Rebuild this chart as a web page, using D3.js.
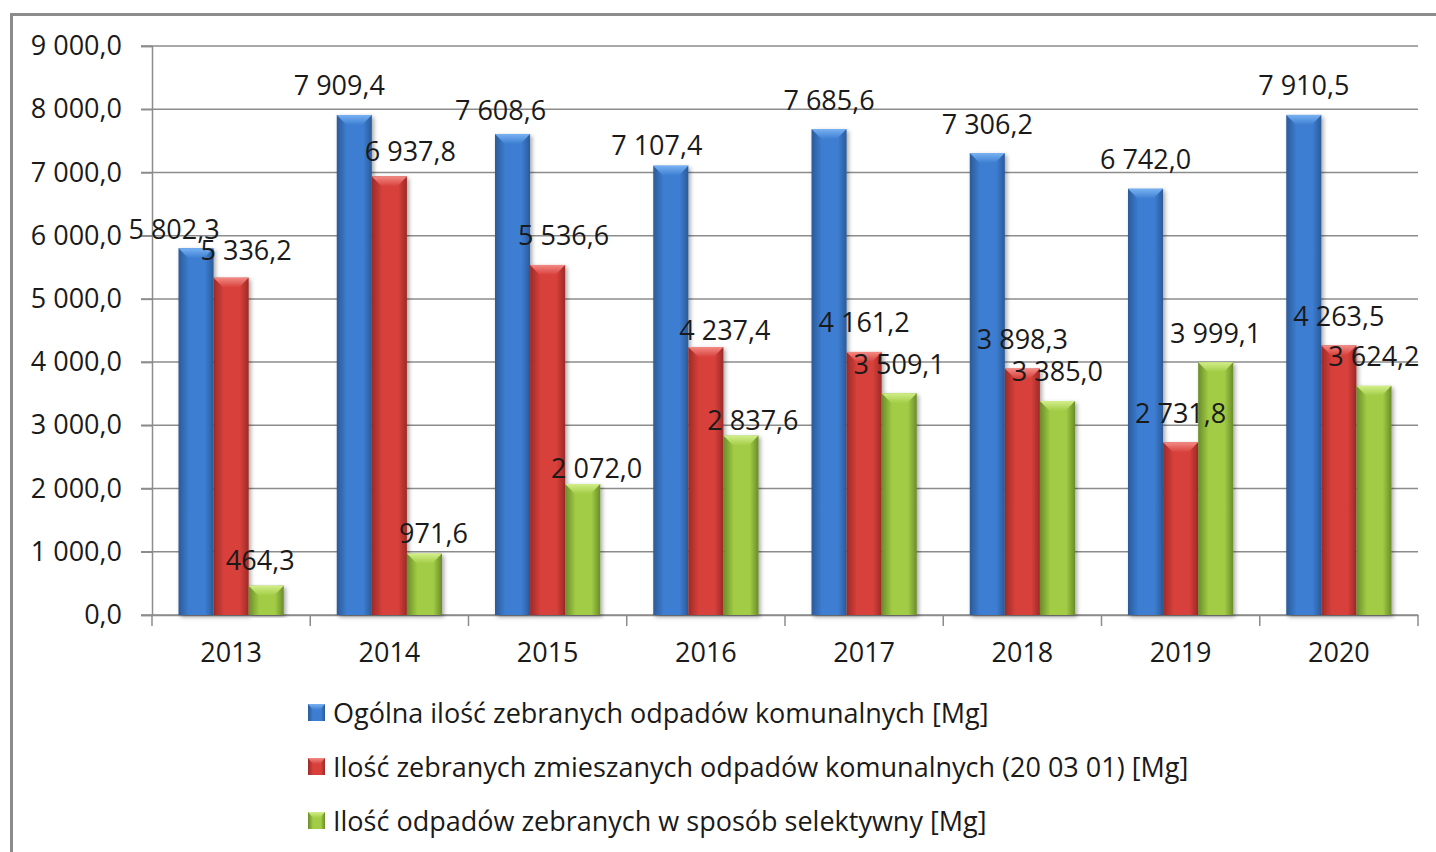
<!DOCTYPE html>
<html>
<head>
<meta charset="utf-8">
<script src="https://cdn.jsdelivr.net/npm/d3@7"></script>
<style>
  body { margin: 0; background: #fff; }
  text { font-family: "Open Sans", sans-serif; fill: #1a1a1a; }
</style>
</head>
<body>
<div id="chart"></div>
<script>
// data
var years = ["2013", "2014", "2015", "2016", "2017", "2018", "2019", "2020"];
var seriesNames = [
  "Ogólna ilość zebranych odpadów komunalnych [Mg]",
  "Ilość zebranych zmieszanych odpadów komunalnych (20 03 01) [Mg]",
  "Ilość odpadów zebranych w sposób selektywny [Mg]"
];
var totalWaste = [5802.3, 7909.4, 7608.6, 7107.4, 7685.6, 7306.2, 6742.0, 7910.5];
var mixedWaste = [5336.2, 6937.8, 5536.6, 4237.4, 4161.2, 3898.3, 2731.8, 4263.5];
var selectiveWaste = [464.3, 971.6, 2072.0, 2837.6, 3509.1, 3385.0, 3999.1, 3624.2];
var yTicks = [0, 1000, 2000, 3000, 4000, 5000, 6000, 7000, 8000, 9000];

var seriesValues = [totalWaste, mixedWaste, selectiveWaste];

// colours: edge, middle, bevel highlight
var colors = [
  { edge: "#2b5a98", mid: "#3d7ed2", top: "#78b2f2" },
  { edge: "#9c2a27", mid: "#d8403b", top: "#f28a84" },
  { edge: "#6a8c2a", mid: "#a2cc45", top: "#d2ee8a" }
];

// the original labels were dragged around a bit in the first four years
// [dx, dy] per series per year, pixels
var labelNudge = [
  [[-22, 10], [-15, 0], [-12, 6], [-14, 9]],
  [[15, 2], [21, 4], [16, 0], [19, 12]],
  [[-6, 4], [9, 9], [14, 13], [12, 14]]
];

var fontSize = "27px";
var svgWidth = 1436, svgHeight = 852;
var margin = { top: 46, left: 152, right: 18, bottom: 237 };
var plotW = svgWidth - margin.left - margin.right;
var plotH = svgHeight - margin.top - margin.bottom;

var svg = d3.select("#chart").append("svg")
  .attr("width", svgWidth)
  .attr("height", svgHeight);

var defs = svg.append("defs");
colors.forEach(function(c, i) {
  var g = defs.append("linearGradient").attr("id", "bar" + i)
    .attr("x1", "0%").attr("x2", "100%").attr("y1", "0%").attr("y2", "0%");
  g.append("stop").attr("offset", "0%").attr("stop-color", c.edge);
  g.append("stop").attr("offset", "30%").attr("stop-color", c.mid);
  g.append("stop").attr("offset", "75%").attr("stop-color", c.mid);
  g.append("stop").attr("offset", "100%").attr("stop-color", c.edge);
  var t = defs.append("linearGradient").attr("id", "top" + i)
    .attr("x1", "0%").attr("x2", "0%").attr("y1", "0%").attr("y2", "100%");
  t.append("stop").attr("offset", "0%").attr("stop-color", c.top);
  t.append("stop").attr("offset", "100%").attr("stop-color", c.mid);
});
var shadow = defs.append("filter").attr("id", "shadow")
  .attr("x", "-20%").attr("y", "-5%").attr("width", "150%").attr("height", "115%");
shadow.append("feDropShadow").attr("dx", 2).attr("dy", 2)
  .attr("stdDeviation", 2).attr("flood-color", "#000").attr("flood-opacity", 0.35);

// outer frame
svg.append("rect")
  .attr("x", 11.5).attr("y", 14.5)
  .attr("width", svgWidth + 20).attr("height", svgHeight + 20)
  .attr("fill", "none").attr("stroke", "#8c8c8c").attr("stroke-width", 3);

var chartGroup = svg.append("g")
  .attr("transform", `translate(${margin.left}, ${margin.top})`);

var locale = d3.formatLocale({ decimal: ",", thousands: " ", grouping: [3], currency: ["", " zł"] });
var fmt = locale.format(",.1f");

var x0 = d3.scaleBand().domain(years).range([0, plotW]);
var step = x0.bandwidth();
var x1 = d3.scaleBand().domain([0, 1, 2]).range([step * 0.1675, step * 0.8325]);
var y = d3.scaleLinear().domain([0, 9000]).range([plotH, 0]);

// gridlines
chartGroup.append("g")
  .selectAll("line")
  .data(yTicks)
  .enter()
  .append("line")
  .attr("x1", -11).attr("x2", plotW)
  .attr("y1", d => y(d)).attr("y2", d => y(d))
  .attr("stroke", "#8c8c8c").attr("stroke-width", 1.5);

// y axis
var yAxis = d3.axisLeft(y).tickValues(yTicks).tickFormat(fmt).tickSize(11).tickPadding(19);
var yG = chartGroup.append("g").call(yAxis);
yG.select(".domain").attr("stroke", "#8c8c8c").attr("stroke-width", 1.5);
yG.selectAll(".tick line").attr("stroke", "#8c8c8c").attr("stroke-width", 1.5);
yG.selectAll("text").style("font-size", fontSize).attr("fill", "#1a1a1a")
  .style("font-family", "'Open Sans', sans-serif");

// x axis
var xAxis = d3.axisBottom(x0).tickSize(0).tickPadding(28);
var xG = chartGroup.append("g").attr("transform", `translate(0, ${plotH})`).call(xAxis);
xG.select(".domain").attr("stroke", "#8c8c8c").attr("stroke-width", 1.5);
xG.selectAll("text").style("font-size", fontSize).attr("fill", "#1a1a1a")
  .style("font-family", "'Open Sans', sans-serif");
xG.selectAll(".sep")
  .data(d3.range(years.length + 1))
  .enter()
  .append("line")
  .attr("x1", d => d * step).attr("x2", d => d * step)
  .attr("y1", 0).attr("y2", 11)
  .attr("stroke", "#8c8c8c").attr("stroke-width", 1.5);

// bars
var bw = x1.bandwidth();
seriesValues.forEach(function(vals, s) {
  var g = chartGroup.append("g").attr("class", "series" + s);
  var bars = g.selectAll("g.bar")
    .data(vals)
    .enter()
    .append("g")
    .attr("class", "bar")
    .attr("filter", "url(#shadow)");

  bars.append("rect")
    .attr("x", (d, i) => x0(years[i]) + x1(s))
    .attr("y", d => y(d))
    .attr("width", bw)
    .attr("height", d => plotH - y(d))
    .attr("fill", "url(#bar" + s + ")");

  // bevel on top of each bar
  bars.append("path")
    .attr("d", function(d, i) {
      var xa = x0(years[i]) + x1(s), ya = y(d);
      var h = Math.min(10, plotH - ya);
      return `M${xa},${ya} L${xa + bw},${ya} L${xa + bw * 0.72},${ya + h} L${xa + bw * 0.28},${ya + h} Z`;
    })
    .attr("fill", "url(#top" + s + ")");
});

// data labels, drawn after all bars so none gets covered
seriesValues.forEach(function(vals, s) {
  chartGroup.append("g").selectAll("text")
    .data(vals)
    .enter()
    .append("text")
    .attr("x", function(d, i) {
      var n = (labelNudge[s][i] || [0, 0])[0];
      return x0(years[i]) + x1(s) + bw / 2 + n;
    })
    .attr("y", function(d, i) {
      var n = (labelNudge[s][i] || [0, 0])[1];
      return y(d) - 30 + n;
    })
    .attr("text-anchor", "middle")
    .attr("dominant-baseline", "central")
    .style("font-size", fontSize)
    .text(d => fmt(d));
});

// legend
var legend = svg.append("g").attr("transform", "translate(308, 712)");
var items = legend.selectAll("g")
  .data(seriesNames)
  .enter()
  .append("g")
  .attr("transform", (d, i) => `translate(0, ${i * 54})`);
items.append("rect")
  .attr("x", 0).attr("y", -8).attr("width", 17).attr("height", 17)
  .attr("fill", (d, i) => "url(#bar" + i + ")");
items.append("path")
  .attr("d", "M0,-8 L17,-8 L12,-2 L5,-2 Z")
  .attr("fill", (d, i) => "url(#top" + i + ")");
items.append("text")
  .attr("x", 25).attr("y", 0)
  .attr("dominant-baseline", "central")
  .style("font-size", fontSize)
  .text(d => d);
</script>
</body>
</html>
